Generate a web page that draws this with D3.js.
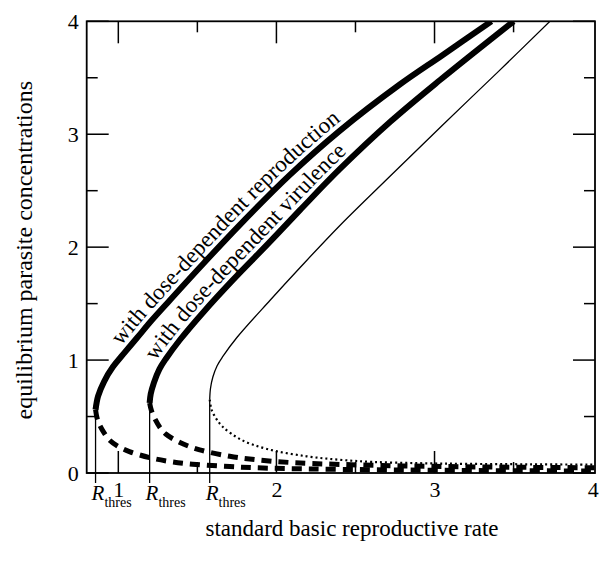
<!DOCTYPE html>
<html><head><meta charset="utf-8">
<script src="https://cdn.jsdelivr.net/npm/d3@7"></script>
<style>
body{margin:0;background:#fff}
svg{display:block}
text{font-family:"Liberation Serif","Times New Roman",serif;fill:#000}
</style>
</head><body>
<svg id="chart" width="599" height="561"></svg>
<script>
// ---- data ----
const xMajorTicks = [1, 2, 3, 4];
const xMinorTicks = [1.5, 2.5, 3.5];
const yMajorTicks = [0, 1, 2, 3, 4];
const yMinorTicks = [0.5, 1.5, 2.5, 3.5];
const thresholdR = [0.856, 1.198, 1.578];
const thresholdTop = [0.56, 0.62, 0.65];
const thresholdLabel = "thres";
const curveLabels = ["with dose-dependent reproduction", "with dose-dependent virulence"];
const xTitle = "standard basic reproductive rate";
const yTitle = "equilibrium parasite concentrations";

const reproUpper = [[0.856,0.56],[0.872,0.68],[0.91,0.81],[0.966,0.94],[1.03,1.05],[1.12,1.20],[1.21,1.35],[1.30,1.49],[1.515,1.82],[1.77,2.20],[2.085,2.64],[2.40,3.03],[2.78,3.44],[3.05,3.70],[3.36,4.0]];
const reproLower = [[0.856,0.56],[0.865,0.49],[0.88,0.43],[0.91,0.355],[0.945,0.29],[1.0,0.235],[1.07,0.19],[1.20,0.135],[1.325,0.102],[1.47,0.078],[1.705,0.057],[1.875,0.046],[2.2,0.036],[2.6,0.029],[3.0,0.024],[3.5,0.020],[4.02,0.018]];
const virUpper = [[1.198,0.62],[1.205,0.70],[1.225,0.80],[1.26,0.92],[1.30,1.01],[1.39,1.18],[1.535,1.42],[1.725,1.71],[1.94,2.02],[2.15,2.33],[2.40,2.69],[2.72,3.11],[3.035,3.48],[3.50,4.0]];
const virLower = [[1.198,0.62],[1.21,0.55],[1.235,0.47],[1.265,0.40],[1.30,0.345],[1.39,0.27],[1.515,0.205],[1.705,0.148],[1.875,0.117],[2.10,0.092],[2.4,0.076],[2.8,0.063],[3.2,0.055],[3.6,0.05],[4.02,0.046]];
const stdUpper = [[1.578,0.65],[1.583,0.75],[1.598,0.85],[1.625,0.95],[1.66,1.03],[1.75,1.20],[1.96,1.53],[2.15,1.82],[2.40,2.19],[2.72,2.63],[3.05,3.08],[3.40,3.55],[3.73,4.0]];
const stdLower = [[1.578,0.65],[1.59,0.56],[1.62,0.48],[1.66,0.41],[1.77,0.30],[1.94,0.213],[2.19,0.148],[2.40,0.117],[2.61,0.098],[2.905,0.087],[3.2,0.081],[3.6,0.077],[4.02,0.074]];

// ---- layout ----
const L = 86.7, R = 595, T = 21.3, B = 473;
const x = d3.scaleLinear().domain([0.8, 4.015]).range([L, R]);
const y = d3.scaleLinear().domain([0, 4]).range([B, T]);
const svg = d3.select("#chart");

svg.append("defs").append("clipPath").attr("id","plot")
  .append("rect").attr("x",L).attr("y",T).attr("width",R-L).attr("height",B-T);

const line = d3.line().x(d=>x(d[0])).y(d=>y(d[1])).curve(d3.curveCatmullRom.alpha(0.5));
const g = svg.append("g").attr("clip-path","url(#plot)");

// lower branches
g.append("path").datum(stdLower).attr("d",line).attr("fill","none").attr("stroke","#000")
  .attr("stroke-width",2.2).attr("stroke-dasharray","2,3");
g.append("path").datum(virLower).attr("d",line).attr("fill","none").attr("stroke","#000")
  .attr("stroke-width",5).attr("stroke-dasharray","10,7");
g.append("path").datum(reproLower).attr("d",line).attr("fill","none").attr("stroke","#000")
  .attr("stroke-width",5).attr("stroke-dasharray","10,7");
// upper branches
g.append("path").datum(stdUpper).attr("d",line).attr("fill","none").attr("stroke","#000")
  .attr("stroke-width",1.3);
g.append("path").datum(virUpper).attr("id","virPath").attr("d",line).attr("fill","none").attr("stroke","#000")
  .attr("stroke-width",6);
g.append("path").datum(reproUpper).attr("id","reproPath").attr("d",line).attr("fill","none").attr("stroke","#000")
  .attr("stroke-width",6);

// curve labels along paths
[["reproPath", curveLabels[0], 68], ["virPath", curveLabels[1], 40]].forEach(([id, txt, off]) => {
  svg.append("text").attr("font-size",23).attr("dy",-7)
    .append("textPath").attr("href","#"+id).attr("startOffset",off).text(txt);
});

// threshold lines
thresholdR.forEach((r,i) => {
  svg.append("line").attr("x1",x(r)).attr("x2",x(r)).attr("y1",B+10).attr("y2",y(thresholdTop[i]))
    .attr("stroke","#000").attr("stroke-width",1.3);
  const t = svg.append("text").attr("x",x(r)-4).attr("y",500);
  t.append("tspan").attr("font-style","italic").attr("font-size",21).text("R");
  t.append("tspan").attr("font-size",14).attr("dy",7).text(thresholdLabel);
});

// frame
svg.append("rect").attr("x",L).attr("y",T).attr("width",R-L).attr("height",B-T)
  .attr("fill","none").attr("stroke","#000").attr("stroke-width",1.8);

// ticks (inward on all sides)
const tickG = svg.append("g").attr("stroke","#000").attr("stroke-width",1.5);
function hTicks(vals, len){
  vals.forEach(v => {
    tickG.append("line").attr("x1",x(v)).attr("x2",x(v)).attr("y1",B).attr("y2",B-len);
    tickG.append("line").attr("x1",x(v)).attr("x2",x(v)).attr("y1",T).attr("y2",T+len);
  });
}
function vTicks(vals, len){
  vals.forEach(v => {
    tickG.append("line").attr("y1",y(v)).attr("y2",y(v)).attr("x1",L).attr("x2",L+len);
    tickG.append("line").attr("y1",y(v)).attr("y2",y(v)).attr("x1",R).attr("x2",R-len);
  });
}
hTicks(xMajorTicks.filter(v=>v<4), 22); hTicks(xMinorTicks, 11);
vTicks(yMajorTicks, 22); vTicks(yMinorTicks, 11);

// tick labels via axes
const xAxis = d3.axisBottom(x).tickValues(xMajorTicks).tickFormat(d3.format("d")).tickSize(0).tickPadding(8);
svg.append("g").attr("transform",`translate(0,${B})`).call(xAxis)
  .call(s=>s.select(".domain").remove())
  .selectAll("text").attr("font-size",22).attr("font-family","Liberation Serif");
const yAxis = d3.axisLeft(y).tickValues(yMajorTicks).tickFormat(d3.format("d")).tickSize(0).tickPadding(8);
svg.append("g").attr("transform",`translate(${L},0)`).call(yAxis)
  .call(s=>s.select(".domain").remove())
  .selectAll("text").attr("font-size",22).attr("font-family","Liberation Serif");

// titles
svg.append("text").attr("x",352).attr("y",536).attr("text-anchor","middle").attr("font-size",23).text(xTitle);
svg.append("text").attr("transform",`translate(32,${(T+B)/2+3}) rotate(-90)`).attr("text-anchor","middle").attr("font-size",24).text(yTitle);
</script>
</body></html>
